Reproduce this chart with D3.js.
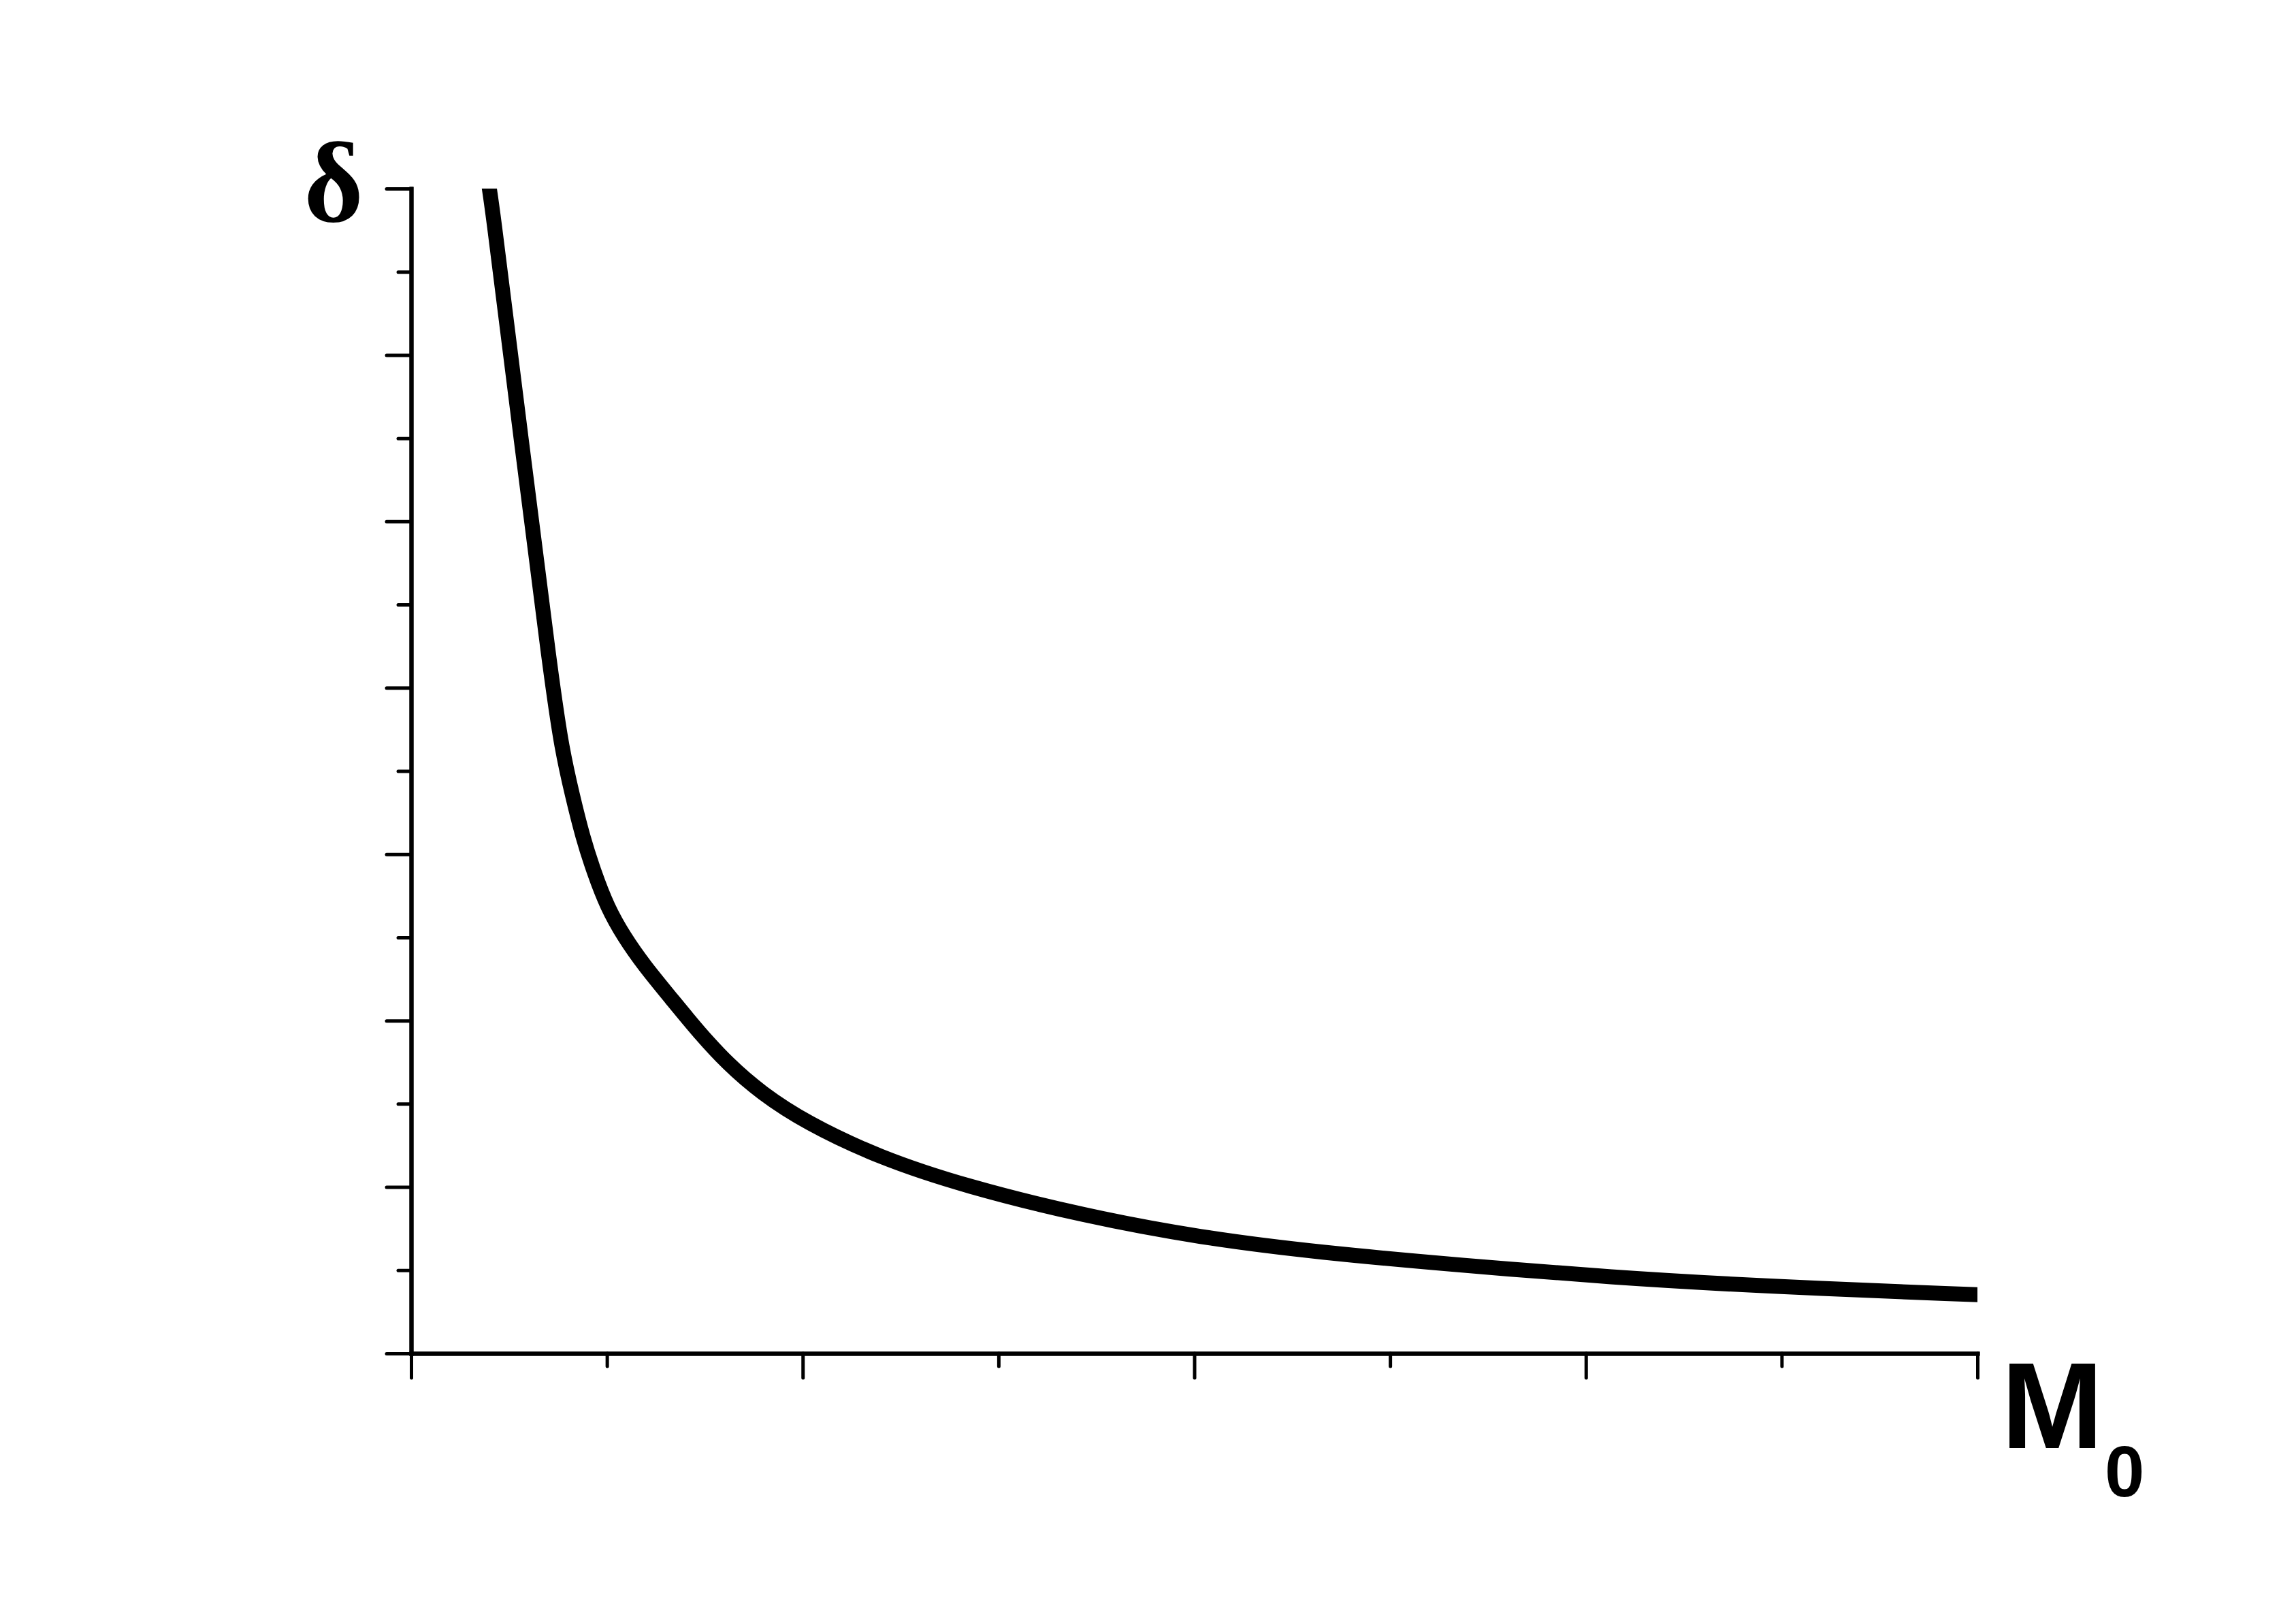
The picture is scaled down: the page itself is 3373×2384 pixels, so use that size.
<!DOCTYPE html>
<html>
<head>
<meta charset="utf-8">
<script src="https://cdn.jsdelivr.net/npm/d3@7"></script>
<style>
  html, body { margin: 0; padding: 0; background: #fff; }
  svg { display: block; }
</style>
</head>
<body>
<svg id="chart" width="3373" height="2384"></svg>
<script>
// ---- data (normalized units) ----
const curveX = [0.190, 0.202, 0.281, 0.359, 0.385, 0.412, 0.438, 0.468, 0.501, 0.543, 0.595, 0.666, 0.733, 0.808, 0.894, 1.007, 1.194, 1.418, 1.718, 2.017, 2.316, 2.690, 3.065, 3.439, 4.0, 4.06];
const curveY = [7.13, 7.0, 5.488, 4.037, 3.632, 3.351, 3.104, 2.885, 2.682, 2.506, 2.331, 2.128, 1.935, 1.741, 1.565, 1.389, 1.178, 1.003, 0.827, 0.695, 0.607, 0.528, 0.457, 0.405, 0.352, 0.347];
const xMajorTicks = [0, 1, 2, 3, 4];
const xMinorTicks = [0.5, 1.5, 2.5, 3.5];
const yMajorTicks = [0, 1, 2, 3, 4, 5, 6, 7];
const yMinorTicks = [0.5, 1.5, 2.5, 3.5, 4.5, 5.5, 6.5];
const xLabel = "M";
const xLabelSub = "0";
const yLabel = "δ";

const svg = d3.select("#chart");
const plotL = 604, plotR = 2905, plotT = 277, plotB = 1988;
const x = d3.scaleLinear().domain([0, 4]).range([plotL, plotR]);
const y = d3.scaleLinear().domain([0, 7]).range([plotB, plotT]);

svg.append("rect").attr("width", 3373).attr("height", 2384).attr("fill", "#fff");

// clip for curve
svg.append("clipPath").attr("id", "plotclip")
  .append("rect").attr("x", plotL).attr("y", plotT)
  .attr("width", plotR - plotL).attr("height", plotB - plotT);

const pts = curveX.map((d, i) => [d, curveY[i]]);
svg.append("path")
  .datum(pts)
  .attr("clip-path", "url(#plotclip)")
  .attr("fill", "none")
  .attr("stroke", "#000")
  .attr("stroke-width", 22)
  .attr("stroke-linejoin", "round")
  .attr("d", d3.line().x(d => x(d[0])).y(d => y(d[1])).curve(d3.curveBasis));

function styleAxis(g) {
  g.selectAll("text").remove();
  g.selectAll("path.domain").attr("stroke", "#000").attr("stroke-width", 6).attr("stroke-linecap", "square");
  g.selectAll(".tick line").attr("stroke", "#000").attr("stroke-width", 5).attr("stroke-linecap", "round");
}

// y axis
svg.append("g").attr("transform", `translate(${plotL},0)`)
  .call(d3.axisLeft(y).tickValues(yMinorTicks).tickSize(19).tickSizeOuter(0).tickFormat(""))
  .call(styleAxis);
svg.append("g").attr("transform", `translate(${plotL},0)`)
  .call(d3.axisLeft(y).tickValues(yMajorTicks).tickSize(36).tickSizeOuter(0).tickFormat(""))
  .call(styleAxis);

// x axis
svg.append("g").attr("transform", `translate(0,${plotB})`)
  .call(d3.axisBottom(x).tickValues(xMinorTicks).tickSize(19).tickSizeOuter(0).tickFormat(""))
  .call(styleAxis);
svg.append("g").attr("transform", `translate(0,${plotB})`)
  .call(d3.axisBottom(x).tickValues(xMajorTicks).tickSize(36).tickSizeOuter(0).tickFormat(""))
  .call(styleAxis);

// labels
svg.append("text")
  .attr("x", 490).attr("y", 325)
  .attr("text-anchor", "middle")
  .attr("font-family", "'Liberation Serif', 'Times New Roman', serif")
  .attr("font-weight", "bold")
  .attr("font-size", 168)
  .text(yLabel);

svg.append("text")
  .attr("x", 2940).attr("y", 2127)
  .attr("font-family", "'Liberation Sans', Arial, sans-serif")
  .attr("font-weight", "bold")
  .attr("font-size", 180)
  .text(xLabel);

svg.append("text")
  .attr("x", 3092).attr("y", 2198)
  .attr("font-family", "'Liberation Sans', Arial, sans-serif")
  .attr("font-weight", "bold")
  .attr("font-size", 105)
  .text(xLabelSub);
</script>
</body>
</html>
